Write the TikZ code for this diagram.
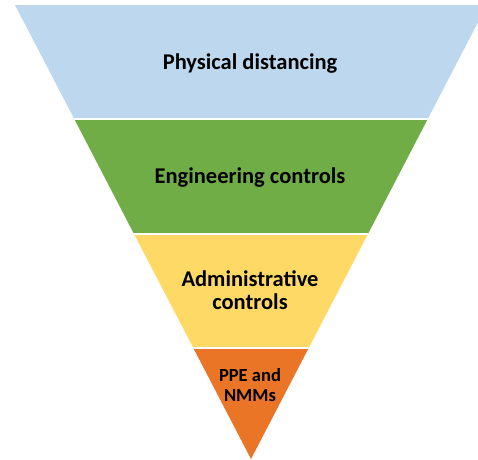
\documentclass[tikz,border=0pt]{standalone}
\usepackage{fontspec}
\setmainfont{Carlito}
\definecolor{bandblue}{HTML}{BDD7EE}
\definecolor{bandgreen}{HTML}{70AD47}
\definecolor{bandyellow}{HTML}{FFD966}
\definecolor{bandorange}{HTML}{EB7526}
\tikzset{
  lbl/.style={font=\bfseries\fontsize{22.5}{23}\selectfont, text=black, align=center, inner sep=0pt},
  lblsmall/.style={font=\bfseries\fontsize{18.5}{19.5}\selectfont, text=black, align=center, inner sep=0pt},
  sep/.style={white, line width=2pt}
}
\begin{document}
\begin{tikzpicture}[x=1pt,y=-1pt]
\useasboundingbox (0,0) rectangle (478,459);
\begin{scope}
\clip (0,0) rectangle (478,459);
\clip (15,5) -- (487,5) -- (251,459) -- cycle;
\fill[bandblue] (0,0) rectangle (500,119);
\fill[bandgreen] (0,119) rectangle (500,234);
\fill[bandyellow] (0,234) rectangle (500,348);
\fill[bandorange] (0,348) rectangle (500,470);
\draw[sep] (0,119) -- (500,119);
\draw[sep] (0,234) -- (500,234);
\draw[sep] (0,348) -- (500,348);
\end{scope}
\node[lbl] (phys) at (250,64) {Physical distancing};
\node[lbl] (eng) at (250,178) {Engineering controls};
\node[lbl] (adm) at (250,290) {Administrative\\controls};
\node[lblsmall] (ppe) at (250,385) {PPE and\\NMMs};
\end{tikzpicture}
\end{document}
